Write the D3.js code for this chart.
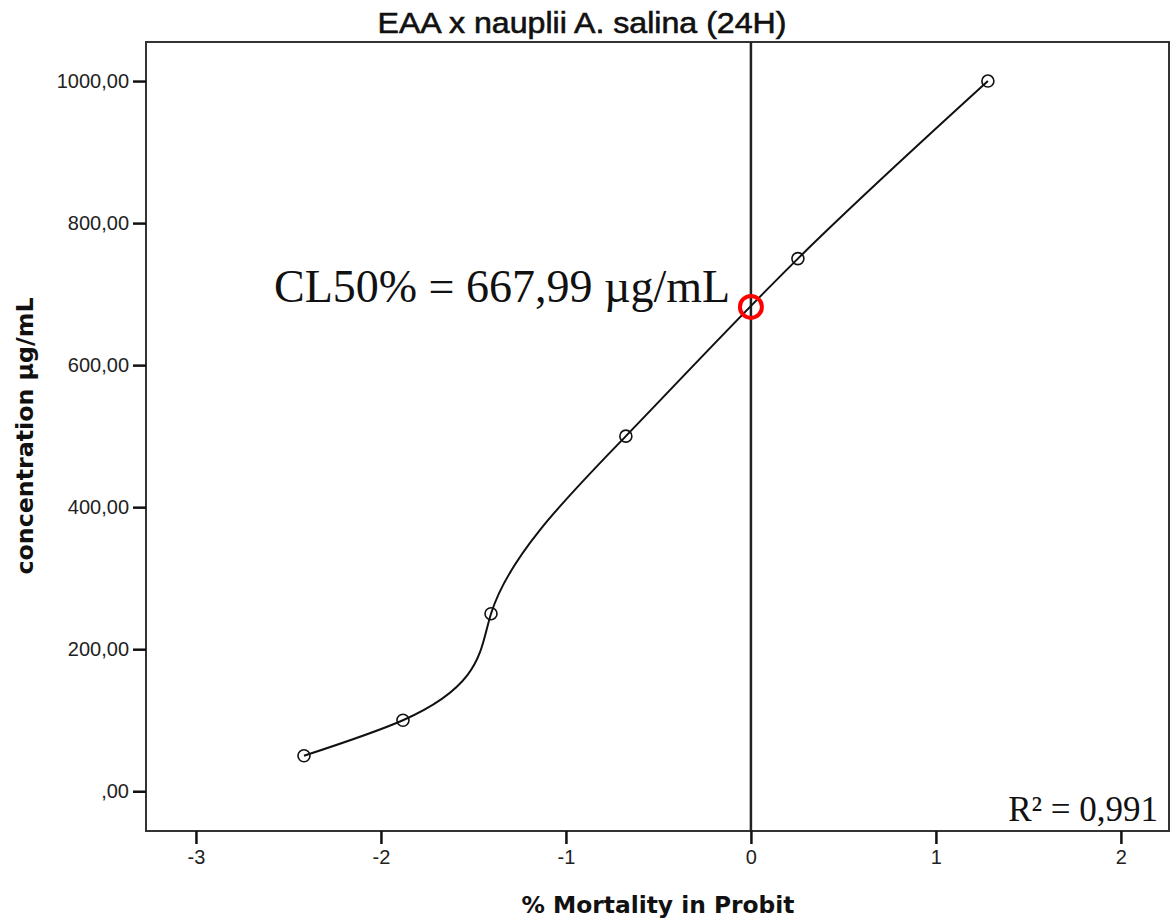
<!DOCTYPE html>
<html>
<head>
<meta charset="utf-8">
<script src="https://cdn.jsdelivr.net/npm/d3@7"></script>
<style>
  body { margin: 0; background: #fff; }
  .tick text { font-family: "Liberation Sans", Arial, sans-serif; font-size: 20px; fill: #222; }
</style>
</head>
<body>
<div class="chart"></div>
<script>
// data
var probit = [-2.416, -1.881, -1.405, -0.676, 0.254, 1.281];
var concentration = [50, 100, 250, 500, 750, 1000];
var yTicks = [0, 200, 400, 600, 800, 1000];
var xTicks = [-3, -2, -1, 0, 1, 2];
var cl50 = { x: 0, y: 682 };

var svgWidth = 1171;
var svgHeight = 920;

var margin = { top: 42, right: 2, bottom: 89, left: 146 };
var width = svgWidth - margin.left - margin.right;
var height = svgHeight - margin.top - margin.bottom;

// natural cubic spline with x as a function of y (the way the source plot interpolates)
function SplineY(context) { this._context = context; }
SplineY.prototype = {
  areaStart: function() { this._line = 0; },
  areaEnd: function() { this._line = NaN; },
  lineStart: function() { this._x = []; this._y = []; },
  point: function(x, y) { this._x.push(+x); this._y.push(+y); },
  lineEnd: function() {
    var f = this._x, t = this._y.map(v => -v), n = f.length, ctx = this._context;
    if (!n) return;
    ctx.moveTo(f[0], -t[0]);
    if (n < 3) { for (var k = 1; k < n; k++) ctx.lineTo(f[k], -t[k]); return; }
    var h = [], s = [];
    for (var i = 0; i < n - 1; i++) { h[i] = t[i + 1] - t[i]; s[i] = (f[i + 1] - f[i]) / h[i]; }
    // tridiagonal solve for second derivatives, natural ends
    var M = new Array(n).fill(0), cp = [], rp = [];
    for (i = 1; i < n - 1; i++) {
      var a = h[i - 1], b = 2 * (h[i - 1] + h[i]), c = h[i], r = 6 * (s[i] - s[i - 1]);
      if (i > 1) { var m = b - a * cp[i - 1]; cp[i] = c / m; rp[i] = (r - a * rp[i - 1]) / m; }
      else { cp[i] = c / b; rp[i] = r / b; }
    }
    for (i = n - 2; i >= 1; i--) M[i] = rp[i] - (i < n - 2 ? cp[i] * M[i + 1] : 0);
    var d = [];
    for (i = 0; i < n - 1; i++) d[i] = s[i] - h[i] * (2 * M[i] + M[i + 1]) / 6;
    d[n - 1] = s[n - 2] + h[n - 2] * (M[n - 2] + 2 * M[n - 1]) / 6;
    for (i = 0; i < n - 1; i++) {
      var hh = h[i] / 3;
      ctx.bezierCurveTo(
        f[i] + d[i] * hh, -(t[i] + hh),
        f[i + 1] - d[i + 1] * hh, -(t[i + 1] - hh),
        f[i + 1], -t[i + 1]);
    }
  }
};
function curveSplineY(context) { return new SplineY(context); }

var svg = d3.select(".chart")
  .append("svg")
  .attr("width", svgWidth)
  .attr("height", svgHeight);

var chartGroup = svg.append("g")
  .attr("transform", `translate(${margin.left}, ${margin.top})`);

var xScale = d3.scaleLinear().domain([-3.27, 2.26]).range([0, width]);
var yScale = d3.scaleLinear().domain([-56, 1055]).range([height, 0]);

// frame
chartGroup.append("rect")
  .attr("width", width)
  .attr("height", height)
  .attr("fill", "none")
  .attr("stroke", "#333")
  .attr("stroke-width", 2);

// axes
var bottomAxis = d3.axisBottom(xScale).tickValues(xTicks).tickSize(13).tickPadding(6)
  .tickFormat(d => d);
var leftAxis = d3.axisLeft(yScale).tickValues(yTicks).tickSize(13).tickPadding(4)
  .tickFormat(d => d === 0 ? ",00" : d + ",00");

var xAxis = chartGroup.append("g")
  .attr("transform", `translate(0, ${height})`)
  .call(bottomAxis);
var yAxis = chartGroup.append("g").call(leftAxis);

[xAxis, yAxis].forEach(function(ax) {
  ax.select(".domain").remove();
  ax.selectAll(".tick line").attr("stroke", "#111").attr("stroke-width", 2.5);
});

// reference line at probit 0
chartGroup.append("line")
  .attr("x1", xScale(0)).attr("x2", xScale(0))
  .attr("y1", 0).attr("y2", height)
  .attr("stroke", "#222")
  .attr("stroke-width", 2.5);

var data = probit.map((p, i) => ({ x: p, y: concentration[i] }));

// fitted curve
var line = d3.line()
  .x(d => xScale(d.x))
  .y(d => yScale(d.y))
  .curve(curveSplineY);

chartGroup.append("path")
  .datum(data)
  .attr("d", line)
  .attr("fill", "none")
  .attr("stroke", "#111")
  .attr("stroke-width", 2);

chartGroup.selectAll("circle.pt")
  .data(data)
  .enter()
  .append("circle")
  .attr("class", "pt")
  .attr("cx", d => xScale(d.x))
  .attr("cy", d => yScale(d.y))
  .attr("r", 6)
  .attr("fill", "none")
  .attr("stroke", "#111")
  .attr("stroke-width", 1.6);

// CL50 marker
chartGroup.append("circle")
  .attr("cx", xScale(cl50.x))
  .attr("cy", yScale(cl50.y))
  .attr("r", 11)
  .attr("fill", "none")
  .attr("stroke", "#ff0000")
  .attr("stroke-width", 4);

svg.append("text")
  .attr("x", 274)
  .attr("y", 302)
  .attr("font-family", "Liberation Serif, Times New Roman, serif")
  .attr("font-size", 46)
  .attr("fill", "#111")
  .text("CL50% = 667,99 µg/mL");

svg.append("text")
  .attr("x", 1158)
  .attr("y", 821)
  .attr("text-anchor", "end")
  .attr("font-family", "Liberation Serif, Times New Roman, serif")
  .attr("font-size", 35)
  .attr("fill", "#111")
  .text("R² = 0,991");

// title
svg.append("text")
  .attr("x", 582)
  .attr("y", 33)
  .attr("text-anchor", "middle")
  .attr("font-family", "Liberation Sans, Arial, sans-serif")
  .attr("font-size", 30)
  .attr("textLength", 409)
  .attr("lengthAdjust", "spacingAndGlyphs")
  .attr("fill", "#111")
  .attr("stroke", "#111")
  .attr("stroke-width", 0.6)
  .text("EAA x nauplii A. salina (24H)");

// axis titles
svg.append("text")
  .attr("x", 658)
  .attr("y", 913)
  .attr("text-anchor", "middle")
  .attr("font-family", "DejaVu Sans Condensed, DejaVu Sans, sans-serif")
  .attr("font-weight", "bold")
  .attr("font-size", 23)
  .attr("textLength", 273)
  .attr("lengthAdjust", "spacingAndGlyphs")
  .attr("fill", "#111")
  .text("% Mortality in Probit");

svg.append("text")
  .attr("transform", "translate(33, 436) rotate(-90)")
  .attr("text-anchor", "middle")
  .attr("font-family", "DejaVu Sans Condensed, DejaVu Sans, sans-serif")
  .attr("font-weight", "bold")
  .attr("font-size", 23)
  .attr("textLength", 277)
  .attr("lengthAdjust", "spacingAndGlyphs")
  .attr("fill", "#111")
  .text("concentration µg/mL");
</script>
</body>
</html>
